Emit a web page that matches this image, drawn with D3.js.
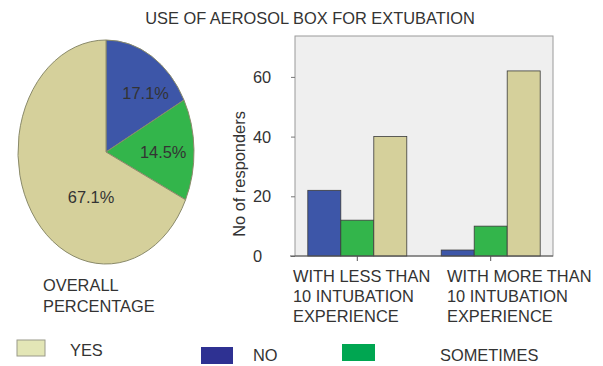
<!DOCTYPE html>
<html>
<head>
<meta charset="utf-8">
<script src="https://cdn.jsdelivr.net/npm/d3@7"></script>
<style>
  html, body { margin: 0; padding: 0; background: #fff; }
  svg { display: block; font-family: "Liberation Sans", Arial, sans-serif; }
  text { fill: #333; }
</style>
</head>
<body>
<svg id="chart" width="603" height="366"></svg>
<script>
// Responses to "use of aerosol box for extubation"
const responses = ["NO", "SOMETIMES", "YES"];
const overallPercent = [17.1, 14.5, 67.1];

const groups = ["LESS", "MORE"];
const groupLabelLines = [
  ["WITH LESS THAN", "10 INTUBATION", "EXPERIENCE"],
  ["WITH MORE THAN", "10 INTUBATION", "EXPERIENCE"]
];
const noCounts = [22, 2];
const sometimesCounts = [12, 10];
const yesCounts = [40, 62];
const yTicks = [0, 20, 40, 60];

const barColor = { NO: "#3d56a8", SOMETIMES: "#33b54b", YES: "#d5d09b" };
const legendColor = { NO: "#2e3192", SOMETIMES: "#00a651", YES: "#e3e6b6" };

const svg = d3.select("#chart");
const FONT = 16.4;

// Title
svg.append("text")
  .attr("x", 310).attr("y", 24)
  .attr("text-anchor", "middle")
  .attr("font-size", FONT)
  .text("USE OF AEROSOL BOX FOR EXTUBATION");

// ---- Pie (drawn as an ellipse) ----
const pieCx = 106, pieCy = 152, rx = 88, ry = 112;
const pieG = svg.append("g").attr("transform", `translate(${pieCx},${pieCy})`);
const pie = d3.pie().sort(null).value(d => d.value);
const slices = pie(responses.map((r, i) => ({ key: r, value: overallPercent[i] })));
const arc = d3.arc().innerRadius(0).outerRadius(1);

pieG.append("g")
  .attr("transform", `scale(${rx},${ry})`)
  .selectAll("path")
  .data(slices)
  .join("path")
  .attr("d", arc)
  .attr("fill", d => barColor[d.data.key])
  .attr("stroke", "#8a8a6a")
  .attr("stroke-width", 1)
  .attr("vector-effect", "non-scaling-stroke");

// label anchors in ellipse units
const pieLabelAt = { NO: [0.45, -0.53], SOMETIMES: [0.65, 0.0], YES: [-0.17, 0.40] };
pieG.selectAll("text.pct")
  .data(slices)
  .join("text")
  .attr("class", "pct")
  .attr("x", d => pieLabelAt[d.data.key][0] * rx)
  .attr("y", d => pieLabelAt[d.data.key][1] * ry)
  .attr("text-anchor", "middle")
  .attr("dominant-baseline", "central")
  .attr("font-size", FONT)
  .text(d => d.data.value.toFixed(1) + "%");

svg.append("text")
  .attr("x", 43).attr("y", 291)
  .attr("font-size", FONT)
  .selectAll("tspan")
  .data(["OVERALL", "PERCENTAGE"])
  .join("tspan")
  .attr("x", 43)
  .attr("dy", (d, i) => i === 0 ? 0 : 20.5)
  .text(d => d);

// ---- Clustered bars ----
const plot = { left: 295, right: 553, top: 36, bottom: 256 };
const y = d3.scaleLinear().domain([0, 73.7]).range([plot.bottom, plot.top]);
const x0 = d3.scaleBand().domain(groups).range([plot.left, plot.right])
  .paddingInner(0.258).paddingOuter(0.096);
const x1 = d3.scaleBand().domain(responses).range([0, x0.bandwidth()]);

svg.append("rect")
  .attr("x", plot.left).attr("y", plot.top)
  .attr("width", plot.right - plot.left).attr("height", plot.bottom - plot.top)
  .attr("fill", "#efefef").attr("stroke", "#9a9a9a").attr("stroke-width", 1);

const counts = { NO: noCounts, SOMETIMES: sometimesCounts, YES: yesCounts };
const barData = groups.flatMap((g, gi) =>
  responses.map(r => ({ group: g, key: r, value: counts[r][gi] })));

svg.append("g").selectAll("rect")
  .data(barData)
  .join("rect")
  .attr("x", d => x0(d.group) + x1(d.key))
  .attr("y", d => y(d.value))
  .attr("width", x1.bandwidth())
  .attr("height", d => y(0) - y(d.value))
  .attr("fill", d => barColor[d.key])
  .attr("stroke", "#3a3a3a")
  .attr("stroke-width", 0.8);

// y axis ticks and left-aligned labels
const yAxisG = svg.append("g").attr("transform", `translate(${plot.left},0)`);
yAxisG.call(d3.axisLeft(y).tickValues(yTicks).tickSize(4).tickFormat(""))
  .call(g => g.select(".domain").remove())
  .call(g => g.selectAll("line").attr("stroke", "#777"));
svg.append("g").selectAll("text")
  .data(yTicks)
  .join("text")
  .attr("x", 253)
  .attr("y", d => y(d))
  .attr("dominant-baseline", "central")
  .attr("font-size", FONT)
  .text(d => d);

// baseline and category ticks
svg.append("line")
  .attr("x1", 290).attr("x2", plot.right)
  .attr("y1", y(0)).attr("y2", y(0))
  .attr("stroke", "#555").attr("stroke-width", 1);
svg.append("g").attr("transform", `translate(0,${plot.bottom})`)
  .call(d3.axisBottom(x0).tickSize(5).tickFormat(""))
  .call(g => g.select(".domain").remove())
  .call(g => g.selectAll("line").attr("stroke", "#555"));

// category labels
const groupLabelX = [293, 447];
groups.forEach((g, gi) => {
  svg.append("text")
    .attr("font-size", FONT)
    .selectAll("tspan")
    .data(groupLabelLines[gi])
    .join("tspan")
    .attr("x", groupLabelX[gi])
    .attr("y", (d, i) => 282 + i * 20)
    .text(d => d);
});

// y axis title
svg.append("text")
  .attr("transform", `translate(245,174) rotate(-90)`)
  .attr("text-anchor", "middle")
  .attr("font-size", FONT)
  .text("No of responders");

// ---- Legend ----
const legendItems = [
  { key: "YES", box: [17, 340, 28, 16], tx: 70, ty: 356 },
  { key: "NO", box: [201, 347, 32, 17], tx: 253, ty: 361 },
  { key: "SOMETIMES", box: [342, 344, 33, 17], tx: 440, ty: 361 }
];
const lg = svg.append("g");
lg.selectAll("rect")
  .data(legendItems)
  .join("rect")
  .attr("x", d => d.box[0]).attr("y", d => d.box[1])
  .attr("width", d => d.box[2]).attr("height", d => d.box[3])
  .attr("fill", d => legendColor[d.key])
  .attr("stroke", d => d.key === "YES" ? "#9a9a8a" : "none");
lg.selectAll("text")
  .data(legendItems)
  .join("text")
  .attr("x", d => d.tx).attr("y", d => d.ty)
  .attr("font-size", FONT)
  .text(d => d.key);
</script>
</body>
</html>
